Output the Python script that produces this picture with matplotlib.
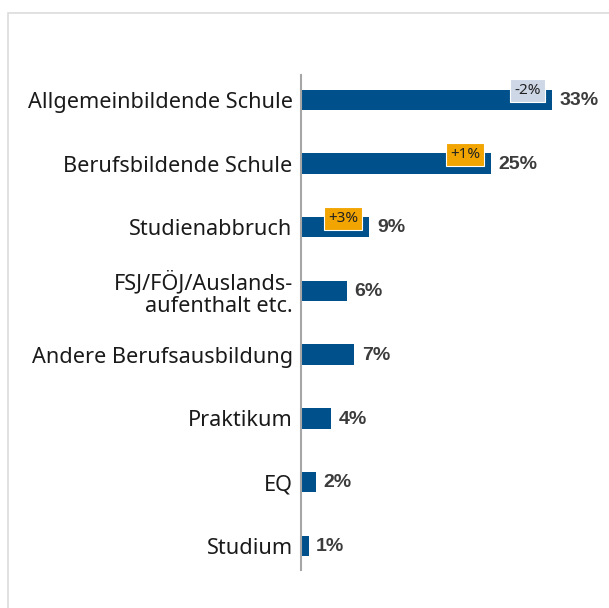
import matplotlib
matplotlib.use("Agg")
import matplotlib.pyplot as plt
from matplotlib.patches import Rectangle

categories = [
    "Allgemeinbildende Schule",
    "Berufsbildende Schule",
    "Studienabbruch",
    "FSJ/FÖJ/Auslands-\naufenthalt etc.",
    "Andere Berufsausbildung",
    "Praktikum",
    "EQ",
    "Studium",
]
values = [33, 25, 9, 6, 7, 4, 2, 1]
# change vs. previous year, only for some rows
changes = {0: "-2%", 1: "+1%", 2: "+3%"}
change_colors = {0: "#ced7e6", 1: "#f2a500", 2: "#f2a500"}

plt.rcParams['font.family'] = ['Noto Sans', 'DejaVu Sans']

fig = plt.figure(figsize=(6.09, 6.08), dpi=100)
ax = fig.add_axes([301 / 609, 1 - 570 / 608, 1 - 301 / 609, (570 - 75) / 608])

ypos = list(range(len(categories)))
ax.barh(ypos, values, height=0.32, color="#00508c")

for i, v in enumerate(values):
    ax.annotate(f"{v}%", xy=(v, i), xytext=(5.5, -0.5), textcoords="offset points",
                ha="left", va="center", fontsize=14, fontweight="bold", color="#3c3c3c",
                family="Liberation Sans")
    if i in changes:
        ax.annotate(changes[i], xy=(v, i), xytext=(-8, 6.5), textcoords="offset points",
                    ha="right", va="center", fontsize=11, color="#222222",
                    bbox=dict(boxstyle="square,pad=0.25", fc=change_colors[i], ec="white", lw=0.8))

ax.set_yticks(ypos)
ax.set_yticklabels(categories, fontsize=15.6, color="#1a1a1a", linespacing=1.1)
ax.tick_params(axis="y", length=0, pad=6)
ax.set_xticks([])
ax.set_xlim(0, 308 / 7.6)
ax.set_ylim(7.38, -0.39)
for s in ["top", "right", "bottom"]:
    ax.spines[s].set_visible(False)
ax.spines["left"].set_color("#a6a6a6")
ax.spines["left"].set_linewidth(1.5)

# light frame around the chart area (top and left edges visible)
fig.patches.append(Rectangle((7.5 / 609, -0.1), 1.2, 1 - 12.5 / 608 + 0.1,
                             transform=fig.transFigure, fill=False,
                             ec="#dcdcdc", lw=1.2))

fig.savefig("out.png", dpi=100)
